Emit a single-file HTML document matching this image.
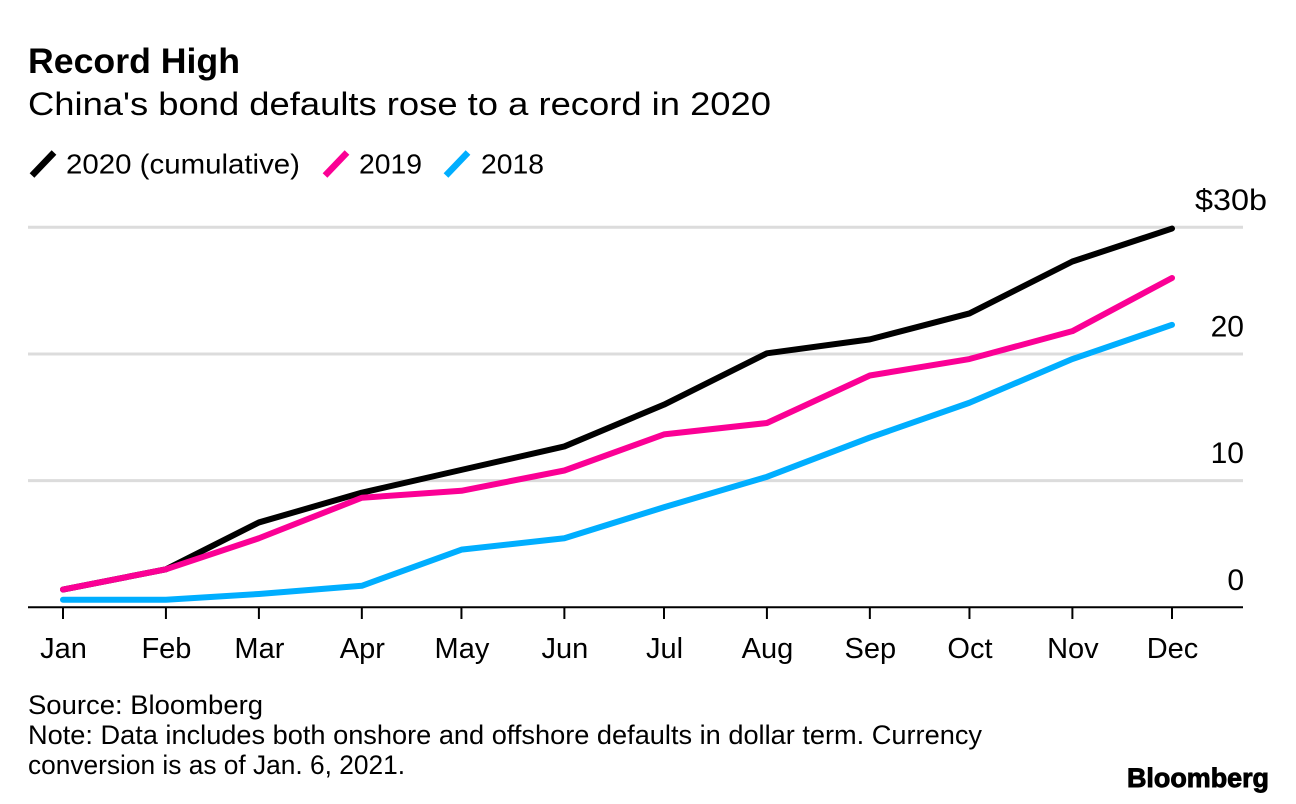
<!DOCTYPE html>
<html><head><meta charset="utf-8"><style>
html,body{margin:0;padding:0;background:#fff;width:1296px;height:804px;overflow:hidden}
text{font-family:"Liberation Sans",Arial,sans-serif;fill:#000}
</style></head><body>
<svg id="chart" width="1296" height="804" viewBox="0 0 1296 804" xmlns="http://www.w3.org/2000/svg">
<text x="28" y="73" font-size="35" font-weight="700" textLength="212" lengthAdjust="spacingAndGlyphs">Record High</text>
<text x="28" y="115" font-size="32" textLength="743" lengthAdjust="spacingAndGlyphs">China's bond defaults rose to a record in 2020</text>
<g>
<line x1="32" y1="175.5" x2="54" y2="152.5" stroke="#000" stroke-width="6.5"/>
<text x="66" y="173.5" font-size="28" textLength="234" lengthAdjust="spacingAndGlyphs">2020 (cumulative)</text>
<line x1="325" y1="175.5" x2="347" y2="152.5" stroke="#fb0095" stroke-width="6.5"/>
<text x="359" y="173.5" font-size="28" textLength="63" lengthAdjust="spacingAndGlyphs">2019</text>
<line x1="446" y1="175.5" x2="468" y2="152.5" stroke="#00aeff" stroke-width="6.5"/>
<text x="481" y="173.5" font-size="28" textLength="63" lengthAdjust="spacingAndGlyphs">2018</text>
</g>
<g id="grid"></g><g id="xaxis"></g><g id="series"></g>
<text x="28" y="714" font-size="27" textLength="235" lengthAdjust="spacingAndGlyphs">Source: Bloomberg</text>
<text x="28" y="744" font-size="27" textLength="954" lengthAdjust="spacingAndGlyphs">Note: Data includes both onshore and offshore defaults in dollar term. Currency</text>
<text x="28" y="774" font-size="27" textLength="377" lengthAdjust="spacingAndGlyphs">conversion is as of Jan. 6, 2021.</text>
<text x="1127" y="787" font-size="27" font-weight="700" textLength="142" lengthAdjust="spacingAndGlyphs" stroke="#000" stroke-width="0.9">Bloomberg</text>
</svg>
<script>
const months = ['Jan','Feb','Mar','Apr','May','Jun','Jul','Aug','Sep','Oct','Nov','Dec'];
const monthStartDay = [0,31,59,90,120,151,181,212,243,273,304,334];
const yTicks = [0,10,20,30];
const yTickLabels = ['0','10','20','$30b'];
const values2018 = [0.6,0.6,1.05,1.7,4.55,5.45,7.9,10.3,13.4,16.15,19.6,22.3];
const values2019 = [1.4,3.0,5.45,8.65,9.2,10.8,13.65,14.55,18.3,19.6,21.8,26.0];
const values2020 = [1.4,3.0,6.7,9.05,10.85,12.7,16.0,20.05,21.15,23.2,27.3,29.9];
const NS='http://www.w3.org/2000/svg';
const y=v=>607.3-v*(607.3-227.3)/30;
const x=d=>63+d*(1172-63)/334;
function mk(tag,attrs,parent,text){const e=document.createElementNS(NS,tag);for(const k in attrs)e.setAttribute(k,attrs[k]);if(text!==undefined)e.textContent=text;parent.appendChild(e);return e;}
const grid=document.getElementById('grid'),xa=document.getElementById('xaxis'),ser=document.getElementById('series');
yTicks.forEach((t,i)=>{
  const l=mk('line',{x1:28,x2:1243,y1:y(t),y2:y(t),stroke:t===0?'#000':'#dcdcdc','stroke-width':t===0?2:3},grid);
  
  
  const s=mk('text',{x:t===30?1195:1244,y:y(t)-17.5,'font-size':30,'text-anchor':t===30?'start':'end'},grid,yTickLabels[i]);
  if(t===30){s.setAttribute('textLength',72);s.setAttribute('lengthAdjust','spacingAndGlyphs');}
  
  
});
months.forEach((m,i)=>{
  const k=mk('line',{x1:x(monthStartDay[i]),x2:x(monthStartDay[i]),y1:607,y2:619,stroke:'#000','stroke-width':2},xa);
  
  
  const s=mk('text',{x:x(monthStartDay[i])+0.5,y:658,'font-size':29,'text-anchor':'middle'},xa,m);
  
  
});
[[values2020,'#000','2020'],[values2019,'#fb0095','2019'],[values2018,'#00aeff','2018']].forEach(([vals,c,n])=>{
  const p=mk('polyline',{points:vals.map((v,i)=>x(monthStartDay[i])+','+y(v)).join(' '),fill:'none',stroke:c,'stroke-width':6,'stroke-linejoin':'round','stroke-linecap':'round'},ser);
  
  
});
</script>
</body></html>
